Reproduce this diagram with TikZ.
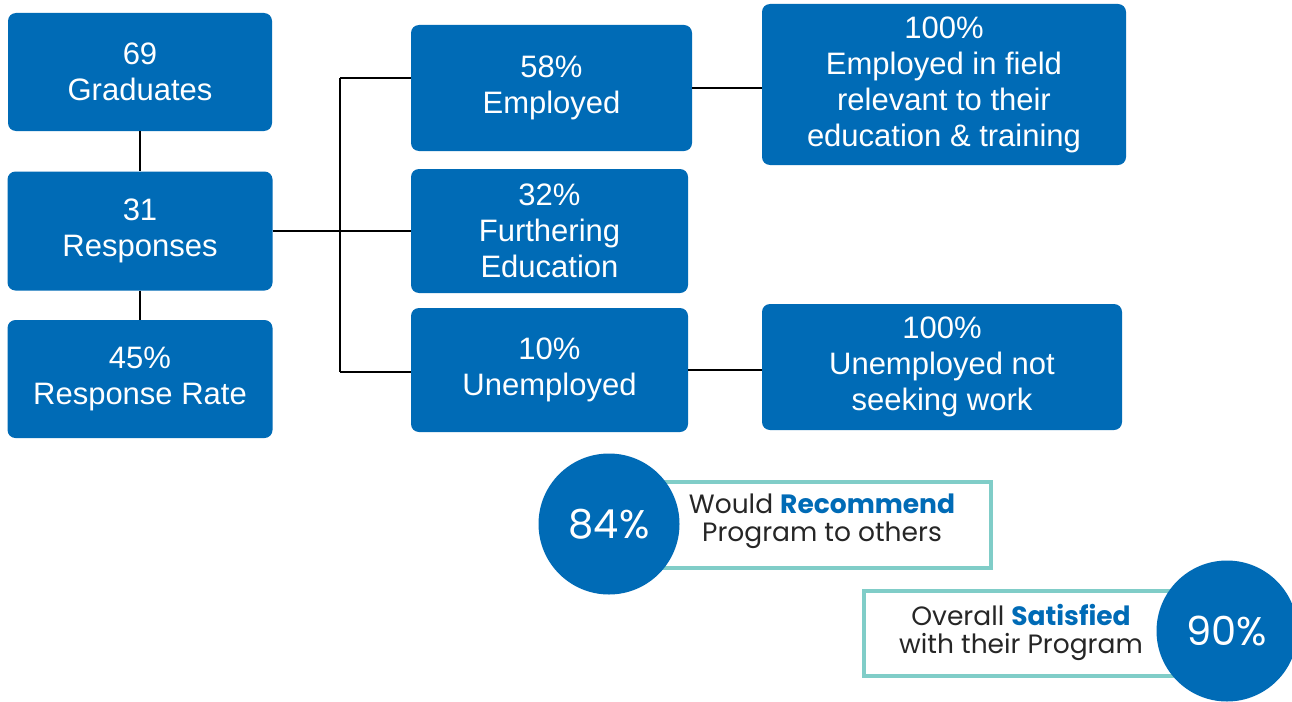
\documentclass[tikz,border=0pt]{standalone}
\usepackage{fontspec}
\setmainfont{Liberation Sans}
\newfontfamily\gfont{Poppins}
\definecolor{boxblue}{RGB}{0,107,182}
\definecolor{tealc}{RGB}{128,205,200}
\begin{document}
\begin{tikzpicture}[x=1pt,y=-1pt,
  bluebox/.style={fill=boxblue, rounded corners=8pt, text=white, align=center, inner sep=0pt,
    font=\fontsize{31}{36}\selectfont},
  conn/.style={draw=black, line width=1.5pt},
  tealbox/.style={draw=tealc, line width=4.5pt, fill=white, inner sep=0pt},
  bigcirc/.style={circle, fill=boxblue, text=white, inner sep=0pt, minimum size=141pt,
    font=\gfont\fontsize{40}{44}\selectfont},
  tealtext/.style={align=center, inner sep=0pt, text=black!85, font=\gfont\fontsize{26.5}{28}\selectfont}
]
\useasboundingbox (0,0) rectangle (1292,701);
\clip (0,0) rectangle (1292,701);
\fill[white] (0,0) rectangle (1292,701);

% left column
\node[bluebox, minimum width=264pt, minimum height=118pt] (A) at (140,72) {69\\Graduates};
\node[bluebox, minimum width=265pt, minimum height=119pt] (B) at (140,231) {31\\Responses};
\node[bluebox, minimum width=265pt, minimum height=118pt] (C) at (140,379) {45\%\\Response Rate};

% middle column
\node[bluebox, minimum width=281pt, minimum height=126pt] (D) at (551.5,88) {58\%\\Employed};
\node[bluebox, minimum width=277pt, minimum height=124pt] (E) at (549.5,231) {32\%\\Furthering\\Education};
\node[bluebox, minimum width=277pt, minimum height=124pt] (F) at (549.5,370) {10\%\\Unemployed};

% right column
\node[bluebox, minimum width=364pt, minimum height=161pt] (G) at (944,84.5) {100\%\\Employed in field\\relevant to their\\education \& training};
\node[bluebox, minimum width=360pt, minimum height=126pt] (H) at (942,367) {100\%\\Unemployed not\\seeking work};

% connectors
\draw[conn] (A.south) -- (B.north);
\draw[conn] (B.south) -- (C.north);
\coordinate (dj) at (340,78);
\coordinate (fj) at (340,372);
\draw[conn] (dj) -- (fj);
\draw[conn] (dj) -- (dj -| D.west);
\draw[conn] (fj) -- (fj -| F.west);
\draw[conn] (B.east) -- (B.east -| E.west);
\draw[conn] (D.east) -- (D.east -| G.west);
\draw[conn] (F.east) -- (F.east -| H.west);

% stats
\node[tealbox, minimum width=382pt, minimum height=86pt] (R1) at (800,525) {};
\node[bigcirc] (C84) at (609,524) {84\%};
\node[tealtext] (T84) at (822,521) {Would \textbf{\textcolor{boxblue}{Recommend}}\\Program to others};

\node[tealbox, minimum width=362pt, minimum height=85pt] (R2) at (1045,633.5) {};
\node[bigcirc] (C90) at (1227,631) {90\%};
\node[tealtext] (T90) at (1021,632) {Overall \textbf{\textcolor{boxblue}{Satisfied}}\\with their Program};
\end{tikzpicture}
\end{document}
